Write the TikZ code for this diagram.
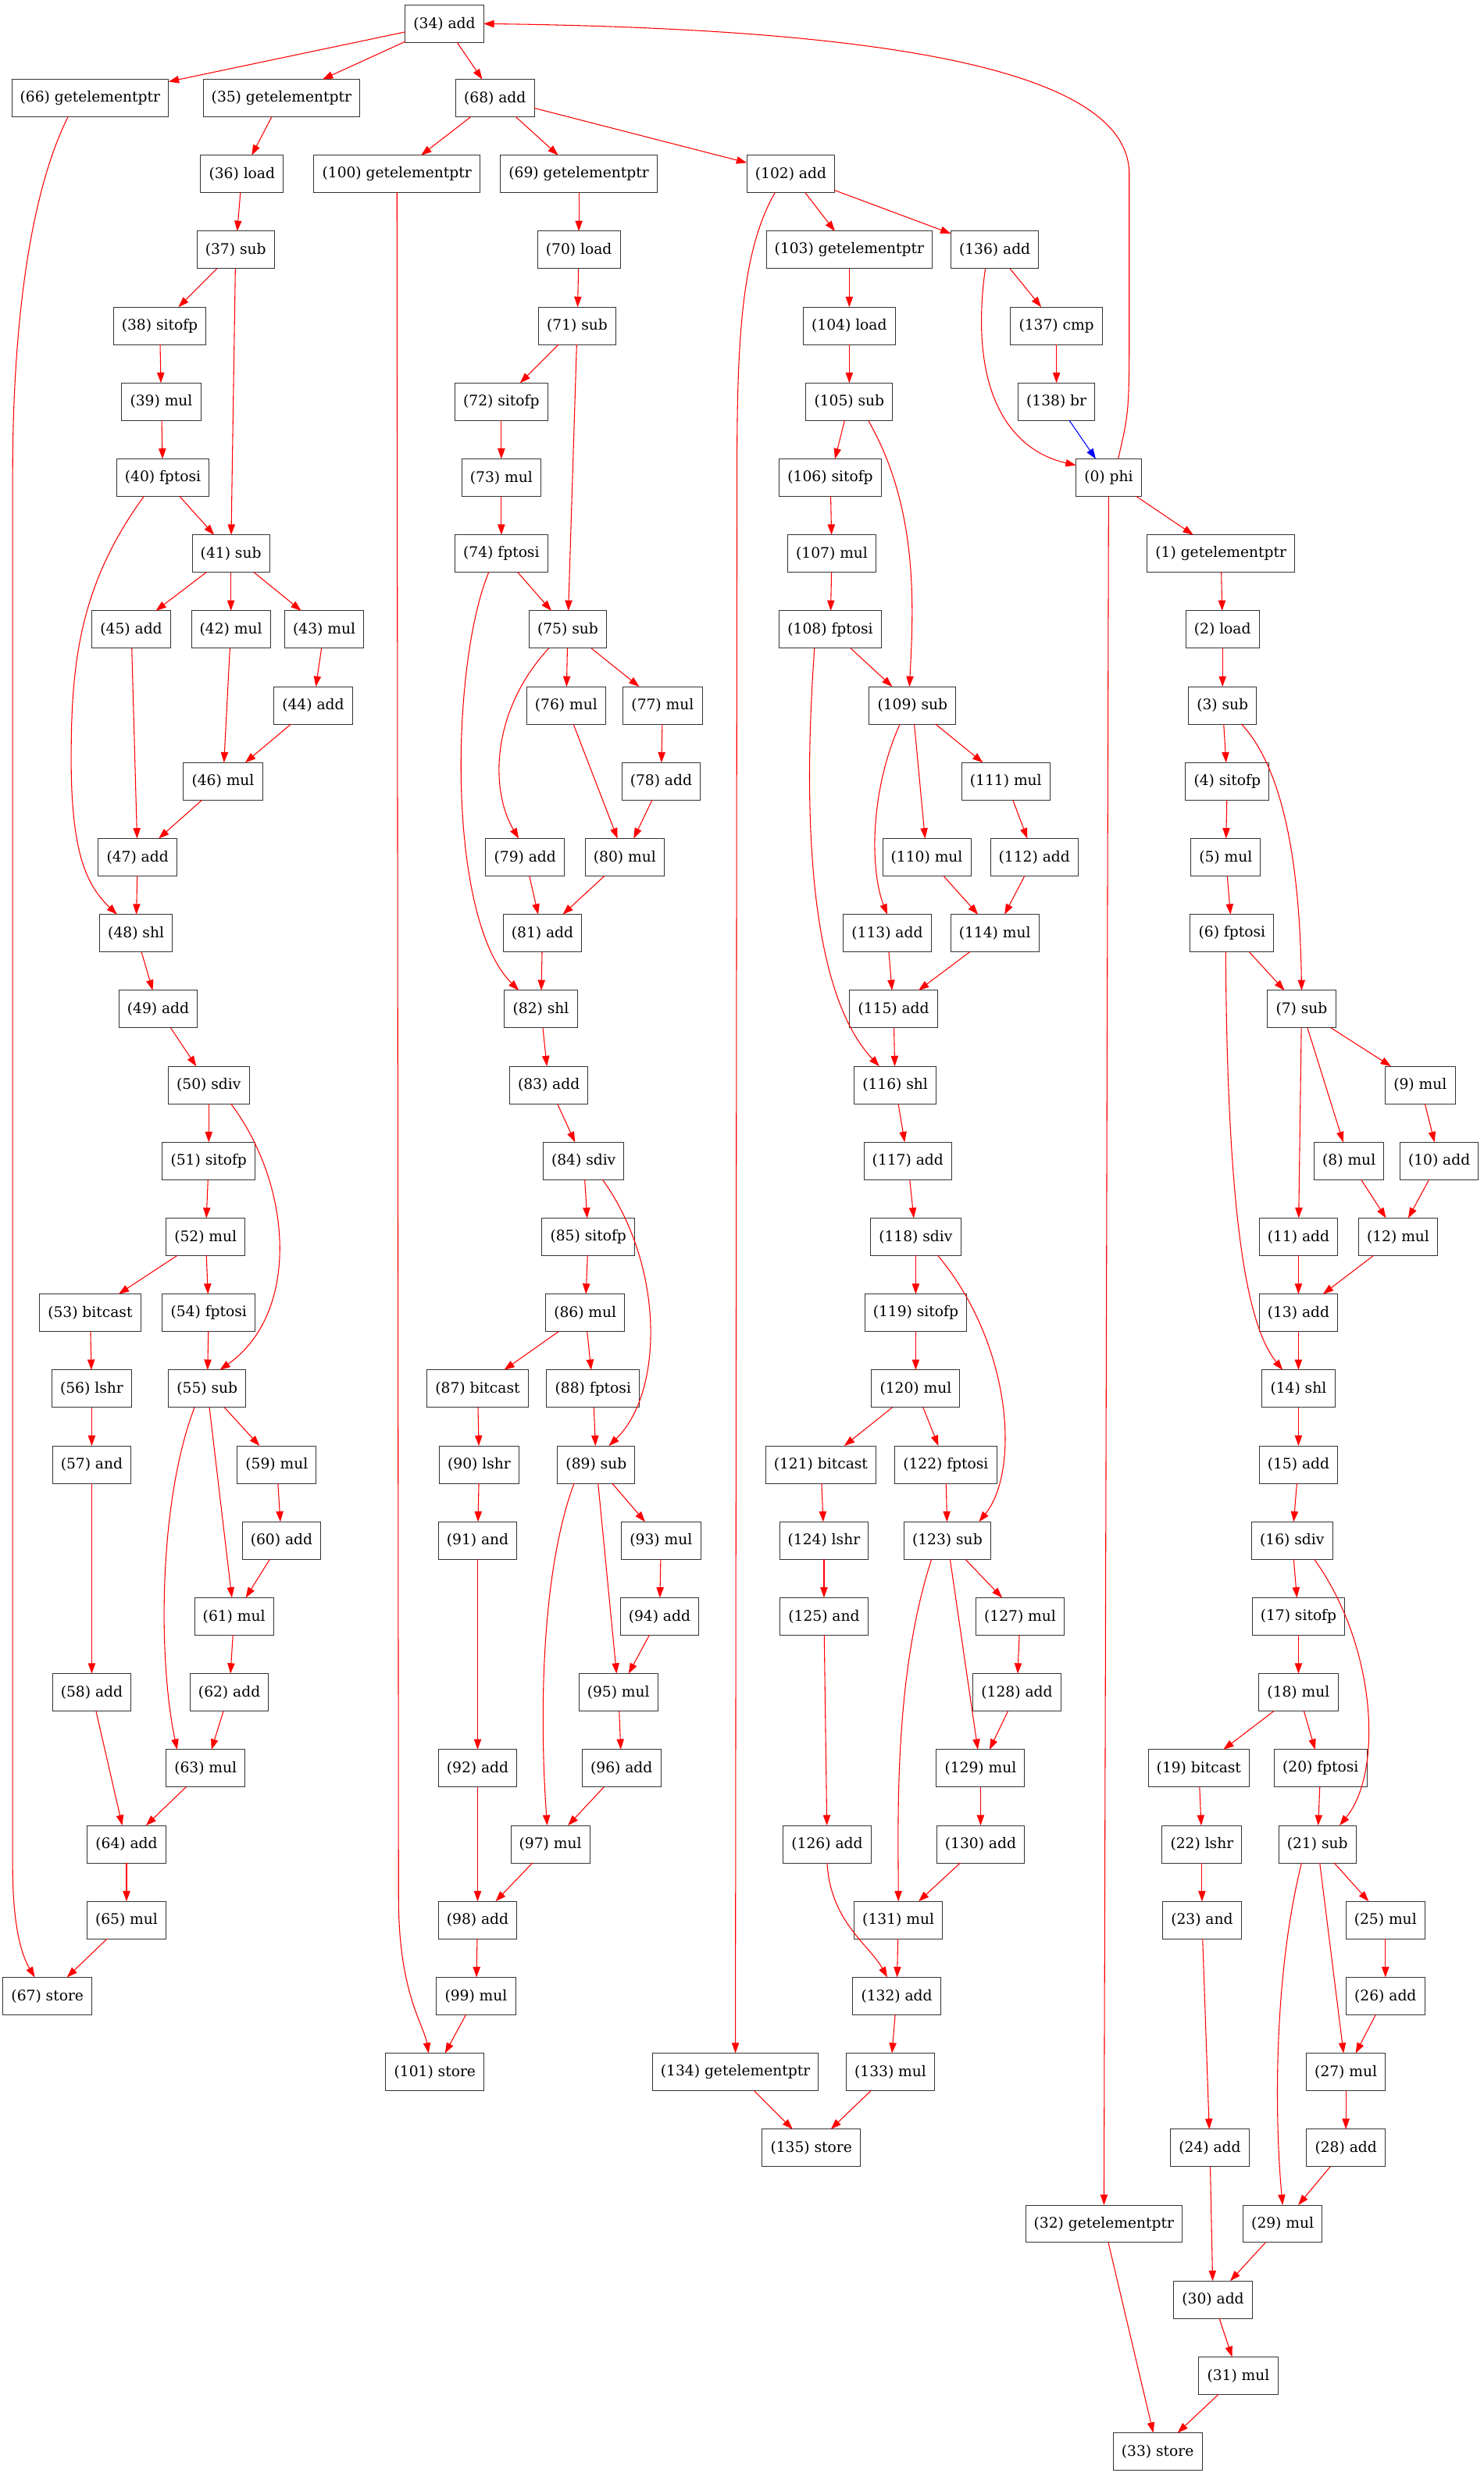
\documentclass[tikz,border=0pt]{standalone}
\usepackage{fontspec}
\setmainfont{DejaVu Serif}
\usetikzlibrary{calc,arrows.meta}

\begin{document}
\begin{tikzpicture}[x=1.5192pt,y=-1.5192pt]

\tikzstyle{op}=[draw=black!80,line width=0.75pt,rectangle,inner xsep=8pt,inner ysep=0pt,
  minimum height=36pt,outer sep=0pt,font=\fontsize{14pt}{16pt}\selectfont]
\tikzstyle{flow}=[red,line width=0.8pt,-{Triangle[length=10pt,width=7pt]}]

\useasboundingbox (0,0) rectangle (938,1568);

% instructions: number/x/y/opcode
\foreach \n/\x/\y/\t in {
  34/281/15/add, 66/57/62/getelementptr, 35/178/62/getelementptr, 68/313/62/add,
  36/153/110/load, 100/251/110/getelementptr, 69/366/110/getelementptr, 102/500/110/add,
  37/149/158/sub, 70/366/158/load, 103/537/158/getelementptr, 136/629/158/add,
  38/101/206/sitofp, 71/365/206/sub, 104/537/206/load, 137/668/206/cmp,
  39/102/254/mul, 72/317/254/sitofp, 105/537/254/sub, 138/668/254/br,
  40/103/302/fptosi, 73/317/302/mul, 106/525/302/sitofp, 0/701/302/phi,
  41/146/350/sub, 74/317/350/fptosi, 107/526/350/mul, 1/772/350/getelementptr,
  45/83/398/add, 42/146/398/mul, 43/205/398/mul, 75/359/398/sub, 108/525/398/fptosi, 2/773/398/load,
  44/198/446/add, 76/358/446/mul, 77/419/446/mul, 109/577/446/sub, 3/773/446/sub,
  46/141/494/mul, 78/418/494/add, 111/636/494/mul, 4/776/494/sitofp,
  47/87/542/add, 79/332/542/add, 80/395/542/mul, 110/586/542/mul, 112/654/542/add, 5/775/542/mul,
  48/86/590/shl, 81/343/590/add, 113/561/590/add, 114/629/590/mul, 6/779/590/fptosi,
  49/100/638/add, 82/342/638/shl, 115/565/638/add, 7/823/638/sub,
  50/132/686/sdiv, 83/347/686/add, 116/566/686/shl, 9/898/686/mul,
  51/132/734/sitofp, 84/369/734/sdiv, 117/574/734/add, 8/853/734/mul, 10/910/734/add,
  52/130/782/mul, 85/372/782/sitofp, 118/579/782/sdiv, 11/821/782/add, 12/884/782/mul,
  53/57/830/bitcast, 54/132/830/fptosi, 86/370/830/mul, 119/579/830/sitofp, 13/821/830/add,
  56/58/878/lshr, 55/131/878/sub, 87/302/878/bitcast, 88/375/878/fptosi, 120/579/878/mul, 14/821/878/shl,
  57/58/926/and, 59/175/926/mul, 90/303/926/lshr, 89/377/926/sub, 121/519/926/bitcast, 122/598/926/fptosi, 15/821/926/add,
  60/178/974/add, 91/302/974/and, 93/418/974/mul, 124/521/974/lshr, 123/599/974/sub, 16/817/974/sdiv,
  61/148/1022/mul, 94/417/1022/add, 125/521/1022/and, 127/645/1022/mul, 17/821/1022/sitofp,
  58/58/1070/add, 62/145/1070/add, 95/391/1070/mul, 128/643/1070/add, 18/821/1070/mul,
  63/130/1118/mul, 92/302/1118/add, 96/393/1118/add, 129/620/1118/mul, 19/758/1118/bitcast, 20/835/1118/fptosi,
  64/80/1166/add, 97/348/1166/mul, 126/523/1166/add, 130/620/1166/add, 22/760/1166/lshr, 21/833/1166/sub,
  65/80/1214/mul, 98/302/1214/add, 131/568/1214/mul, 23/760/1214/and, 25/876/1214/mul,
  67/30/1262/store, 99/301/1262/mul, 132/567/1262/add, 26/876/1262/add,
  101/275/1310/store, 134/465/1310/getelementptr, 133/563/1310/mul, 27/851/1310/mul,
  135/513/1358/store, 24/765/1358/add, 28/851/1358/add,
  32/698/1406/getelementptr, 29/811/1406/mul,
  30/767/1454/add, 31/783/1502/mul, 33/732/1550/store}
  \node (n\n) at (\x,\y) [op] {(\n) \t};

% straight dependencies
\foreach \a/\b in {34/66, 34/35, 34/68, 35/36, 36/37, 37/38, 37/41, 38/39, 39/40, 40/41,
  41/45, 41/42, 41/43, 43/44, 42/46, 44/46, 45/47, 46/47, 47/48, 48/49, 49/50, 50/51,
  51/52, 52/53, 52/54, 53/56, 54/55, 56/57, 57/58, 55/59, 55/61, 59/60, 60/61, 61/62,
  62/63, 58/64, 63/64, 64/65, 65/67,
  68/100, 68/69, 68/102, 69/70, 70/71, 71/72, 71/75, 72/73, 73/74, 74/75, 75/76, 75/77,
  77/78, 76/80, 78/80, 79/81, 80/81, 81/82, 82/83, 83/84, 84/85, 85/86, 86/87, 86/88,
  87/90, 88/89, 90/91, 91/92, 89/93, 89/95, 93/94, 94/95, 95/96, 96/97, 92/98, 97/98,
  98/99, 99/101,
  102/103, 102/136, 103/104, 104/105, 105/106, 106/107, 107/108, 108/109, 109/111,
  109/110, 111/112, 110/114, 112/114, 113/115, 114/115, 115/116, 116/117, 117/118,
  118/119, 119/120, 120/121, 120/122, 121/124, 122/123, 124/125, 125/126, 123/127,
  123/129, 127/128, 128/129, 129/130, 130/131, 131/132, 132/133, 133/135, 134/135,
  136/137, 137/138, 0/1, 0/32, 32/33,
  1/2, 2/3, 3/4, 4/5, 5/6, 6/7, 7/9, 7/8, 7/11, 9/10, 8/12, 10/12, 11/13, 12/13,
  13/14, 14/15, 15/16, 16/17, 17/18, 18/19, 18/20, 19/22, 20/21, 22/23, 23/24,
  21/25, 21/27, 25/26, 26/27, 27/28, 28/29, 24/30, 29/30, 30/31, 31/33}
  \draw[flow] (n\a) -- (n\b);

% bent dependencies
\draw[flow] ($(n66.south)+(-14,0)$) .. controls (20,120) and (8,200) .. (8,300)
  -- (8,1180) .. controls (8,1225) and (16,1240) .. ($(n67.north)+(-8,0)$);
\draw[flow] ($(n40.south)+(-12,0)$) .. controls (50,370) and (45,420) .. (45,480)
  .. controls (45,540) and (55,560) .. ($(n48.north)+(-12,0)$);
\draw[flow] ($(n50.south)+(14,0)$) .. controls (185,750) and (190,830) .. ($(n55.north)+(8,0)$);
\draw[flow] ($(n55.south)+(-8,0)$) .. controls (100,950) and (100,1050) .. ($(n63.north)+(-18,0)$);
\draw[flow] (n100.south) -- (252,1200) .. controls (252,1260) and (268,1280) .. ($(n101.north)+(-4,0)$);
\draw[flow] ($(n74.south)+(-8,0)$) .. controls (285,420) and (282,580) .. ($(n82.north)+(-14,0)$);
\draw[flow] ($(n75.south)+(-12,0)$) .. controls (310,450) and (310,500) .. ($(n79.north)+(-4,0)$);
\draw[flow] ($(n84.south)+(12,0)$) .. controls (420,800) and (420,880) .. ($(n89.north)+(8,0)$);
\draw[flow] ($(n89.south)+(-14,0)$) .. controls (340,1000) and (342,1100) .. ($(n97.north)+(-2,0)$);
\draw[flow] ($(n102.south)+(-10,0)$) .. controls (468,160) and (466,220) .. (466,300) -- (n134.north);
\draw[flow] ($(n105.south)+(12,0)$) .. controls (580,320) and (578,380) .. ($(n109.north)+(-2,0)$);
\draw[flow] ($(n108.south)+(-10,0)$) .. controls (510,480) and (505,620) .. ($(n116.north)+(-10,0)$);
\draw[flow] ($(n109.south)+(-8,0)$) .. controls (550,500) and (550,550) .. (n113.north);
\draw[flow] ($(n118.south)+(14,0)$) .. controls (640,850) and (645,930) .. ($(n123.north)+(20,0)$);
\draw[flow] ($(n123.south)+(-10,0)$) .. controls (565,1060) and (568,1150) .. (n131.north);
\draw[flow] (n126.south) .. controls (525,1215) and (550,1230) .. ($(n132.north)+(-6,0)$);
\draw[flow] ($(n136.south)+(-6,0)$) .. controls (612,250) and (640,285) .. ($(n0.north west)+(0,4)$);
\draw[flow] ($(n0.north)+(6,0)$) .. controls (714,260) .. (714,200) -- (714,110)
  .. controls (714,40) and (540,18) .. (n34.east);
\draw[flow] ($(n3.south)+(12,0)$) .. controls (815,490) and (822,560) .. (n7.north);
\draw[flow] ($(n6.south)+(-4,0)$) .. controls (776,780) and (790,840) .. ($(n14.north)+(-10,0)$);
\draw[flow] ($(n16.south)+(14,0)$) .. controls (870,1040) and (875,1120) .. ($(n21.north)+(14,0)$);
\draw[flow] ($(n21.south)+(-10,0)$) .. controls (805,1250) and (806,1340) .. (n29.north);

% the branch back into the loop header
\draw[flow,blue] (n138) -- (n0);
\end{tikzpicture}
\end{document}
